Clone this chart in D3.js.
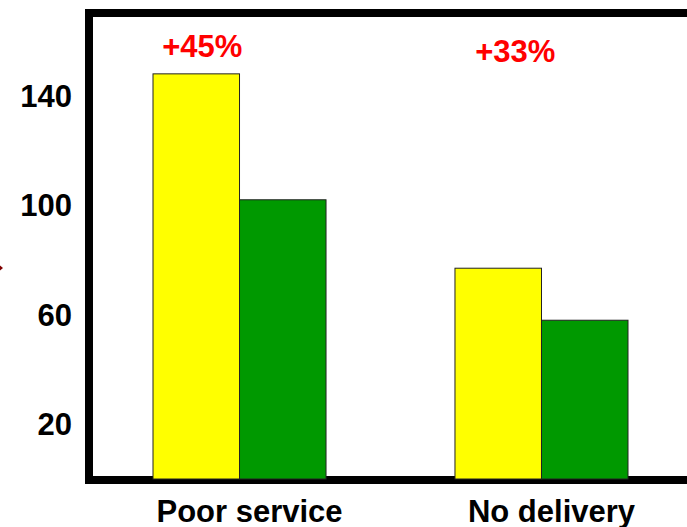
<!DOCTYPE html>
<html>
<head>
<meta charset="utf-8">
<script src="https://cdn.jsdelivr.net/npm/d3@7/dist/d3.min.js"></script>
<style>
  body { margin: 0; background: #fff; }
  svg { display: block; }
</style>
</head>
<body>
<script>
// grouped bars, two series per category

let w = 687;
let h = 527;

let categories = ['Poor service', 'No delivery'];
let seriesYellow = [148, 77];
let seriesGreen = [102, 58];
let changeLabels = ['+45%', '+33%'];
let yTicks = [20, 60, 100, 140];

let colors = ['#FFFF00', '#009900'];

let svg = d3.select('body').append('svg')
    .attr('width', w)
    .attr('height', h);

let y = d3.scaleLinear()
    .domain([0, 170])
    .range([479, 479 - 170 * 2.7375]);

let x = d3.scaleBand()
    .domain(categories)
    .range([153, 628])
    .paddingInner(0.427)
    .paddingOuter(0);

let sub = d3.scaleBand()
    .domain([0, 1])
    .range([0, x.bandwidth()]);

// frame (right side runs off the page)
svg.append('path')
    .attr('d', 'M720,13 H89 V480 H720')
    .attr('fill', 'none')
    .attr('stroke', '#000')
    .attr('stroke-width', 8);

// small marker at left edge
svg.append('path')
    .attr('d', 'M-2,264 L3,268 L-2,272 Z')
    .attr('fill', '#800000');

let rows = categories.map((c, i) => ({ cat: c, vals: [seriesYellow[i], seriesGreen[i]], label: changeLabels[i] }));

let groups = svg.selectAll('g.group')
    .data(rows)
    .enter()
    .append('g')
    .attr('class', 'group')
    .attr('transform', d => 'translate(' + x(d.cat) + ',0)');

groups.selectAll('rect')
    .data(d => d.vals)
    .enter()
    .append('rect')
    .attr('x', (d, i) => sub(i))
    .attr('y', d => y(d))
    .attr('width', sub.bandwidth())
    .attr('height', d => y(0) - y(d))
    .attr('fill', (d, i) => colors[i])
    .attr('stroke', '#222')
    .attr('stroke-width', 1);

// percentage labels
groups.append('text')
    .text(d => d.label)
    .attr('x', (d, i) => sub(0) + sub.bandwidth() / 2 + (i == 0 ? 6 : 17))
    .attr('y', (d, i) => i == 0 ? 57 : 62)
    .attr('text-anchor', 'middle')
    .attr('fill', '#FF0000')
    .attr('font-family', '"Liberation Sans", Arial, sans-serif')
    .attr('font-weight', 'bold')
    .attr('font-size', '31px');

// y tick labels
svg.selectAll('text.ytick')
    .data(yTicks)
    .enter()
    .append('text')
    .attr('class', 'ytick')
    .text(d => d)
    .attr('x', 72)
    .attr('y', d => y(d))
    .attr('dy', '0.36em')
    .attr('text-anchor', 'end')
    .attr('fill', '#000')
    .attr('font-family', '"Liberation Sans", Arial, sans-serif')
    .attr('font-weight', 'bold')
    .attr('font-size', '31px');

// category labels
svg.selectAll('text.xcat')
    .data(categories)
    .enter()
    .append('text')
    .attr('class', 'xcat')
    .text(d => d)
    .attr('x', d => x(d) + x.bandwidth() / 2 + 10)
    .attr('y', 522)
    .attr('text-anchor', 'middle')
    .attr('fill', '#000')
    .attr('font-family', '"Liberation Sans", Arial, sans-serif')
    .attr('font-weight', 'bold')
    .attr('font-size', '31px');
</script>
</body>
</html>
